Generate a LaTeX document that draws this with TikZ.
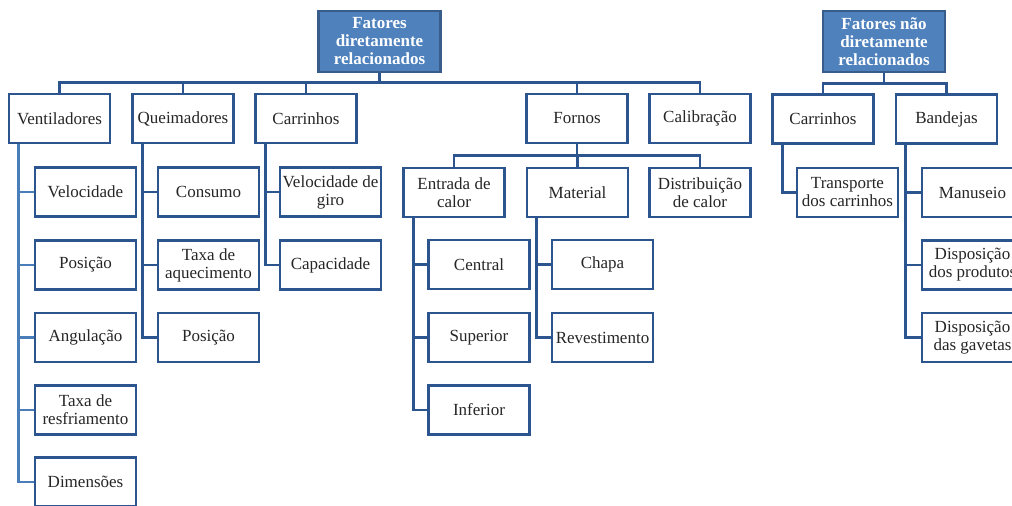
\documentclass[tikz,border=0pt]{standalone}
\usepackage{fontspec}
\setmainfont{Liberation Serif}
\usepackage{tikz}
\usetikzlibrary{arrows,shapes}

\definecolor{linha}{HTML}{2C5590}
\definecolor{linhaclara}{HTML}{4A7EBB}
\definecolor{topo}{HTML}{4F81BD}
\definecolor{topoborda}{HTML}{385D8A}
\definecolor{texto}{HTML}{262626}

\tikzset{
  caixa/.style={draw=linha, line width=2.6pt, fill=white, rectangle,
    minimum width=101pt, minimum height=49pt, inner sep=0pt, align=center,
    text=texto, font=\fontsize{17}{18}\selectfont},
  raiz/.style={draw=topoborda, line width=2.6pt, fill=topo, rectangle,
    minimum width=122pt, minimum height=61pt, inner sep=0pt, align=center,
    text=white, font=\fontsize{17}{18}\selectfont\bfseries},
  liga/.style={draw=linha, line width=2.6pt},
  ligaclara/.style={draw=linhaclara, line width=2.6pt}
}

\begin{document}
\begin{tikzpicture}[x=1pt, y=-1pt]
  \useasboundingbox (0,0) rectangle (1012,506);
  \clip (0,0) rectangle (1012,506);
  % fatores diretamente relacionados
  \node[raiz] (fd) at (379.5,41.5) {Fatores\\diretamente\\relacionados};
  \node[caixa] (v) at (59.5,118.5) {Ventiladores};
  \node[caixa] (q) at (183,118.5) {Queimadores};
  \node[caixa] (c) at (306,118.5) {Carrinhos};
  \node[caixa] (f) at (577,118.5) {Fornos};
  \node[caixa] (cal) at (700,118.5) {Calibração};
  \node[caixa] (v1) at (85.5,192) {Velocidade};
  \node[caixa] (v2) at (85.5,265) {Posição};
  \node[caixa] (v3) at (85.5,337.5) {Angulação};
  \node[caixa] (v4) at (85.5,410) {Taxa de\\resfriamento};
  \node[caixa] (v5) at (85.5,482) {Dimensões};
  \node[caixa] (q1) at (208.5,192) {Consumo};
  \node[caixa] (q2) at (208.5,265) {Taxa de\\aquecimento};
  \node[caixa] (q3) at (208.5,337.5) {Posição};
  \node[caixa] (c1) at (330.5,192) {Velocidade de\\giro};
  \node[caixa] (c2) at (330.5,265) {Capacidade};
  \node[caixa] (f1) at (454,192.5) {Entrada de\\calor};
  \node[caixa] (f2) at (577.5,192.5) {Material};
  \node[caixa] (f3) at (700,192.5) {Distribuição\\de calor};
  \node[caixa] (e1) at (479,264.5) {Central};
  \node[caixa] (e2) at (479,337.5) {Superior};
  \node[caixa] (e3) at (479,410) {Inferior};
  \node[caixa] (m1) at (602.5,264.5) {Chapa};
  \node[caixa] (m2) at (602.5,337.5) {Revestimento};
  % fatores nao diretamente relacionados
  \node[raiz] (nd) at (884,41.5) {Fatores não\\diretamente\\relacionados};
  \node[caixa] (nc) at (823,119) {Carrinhos};
  \node[caixa] (b) at (946.5,119) {Bandejas};
  \node[caixa] (nc1) at (847.5,192.5) {Transporte\\dos carrinhos};
  \node[caixa] (b1) at (972.5,192.5) {Manuseio};
  \node[caixa] (b2) at (972.5,265) {Disposição\\dos produtos};
  \node[caixa] (b3) at (972.5,337.5) {Disposição\\das gavetas};
  % ligacoes
  \draw[liga] (fd.south) -- ++(0,10);
  \draw[liga] (v.north) -- ++(0,-10) -| (cal.north);
  \draw[liga] (q.north) -- ++(0,-10);
  \draw[liga] (c.north) -- ++(0,-10);
  \draw[liga] (f.north) -- ++(0,-10);
  \draw[ligaclara] ([xshift=11pt]v.south west) |- (v1.west);
  \draw[ligaclara] ([xshift=11pt]v.south west) |- (v2.west);
  \draw[ligaclara] ([xshift=11pt]v.south west) |- (v3.west);
  \draw[ligaclara] ([xshift=11pt]v.south west) |- (v4.west);
  \draw[ligaclara] ([xshift=11pt]v.south west) |- (v5.west);
  \draw[liga] ([xshift=11pt]q.south west) |- (q1.west);
  \draw[liga] ([xshift=11pt]q.south west) |- (q2.west);
  \draw[liga] ([xshift=11pt]q.south west) |- (q3.west);
  \draw[liga] ([xshift=11pt]c.south west) |- (c1.west);
  \draw[liga] ([xshift=11pt]c.south west) |- (c2.west);
  \draw[liga] (f.south) -- ++(0,11);
  \draw[liga] (f1.north) -- ++(0,-11) -| (f3.north);
  \draw[liga] (f2.north) -- ++(0,-11);
  \draw[liga] ([xshift=11pt]f1.south west) |- (e1.west);
  \draw[liga] ([xshift=11pt]f1.south west) |- (e2.west);
  \draw[liga] ([xshift=11pt]f1.south west) |- (e3.west);
  \draw[liga] ([xshift=11pt]f2.south west) |- (m1.west);
  \draw[liga] ([xshift=11pt]f2.south west) |- (m2.west);
  \draw[liga] (nd.south) -- ++(0,10);
  \draw[liga] (nc.north) -- ++(0,-10) -| (b.north);
  \draw[liga] ([xshift=11pt]nc.south west) |- (nc1.west);
  \draw[liga] ([xshift=11pt]b.south west) |- (b1.west);
  \draw[liga] ([xshift=11pt]b.south west) |- (b2.west);
  \draw[liga] ([xshift=11pt]b.south west) |- (b3.west);
\end{tikzpicture}
\end{document}
